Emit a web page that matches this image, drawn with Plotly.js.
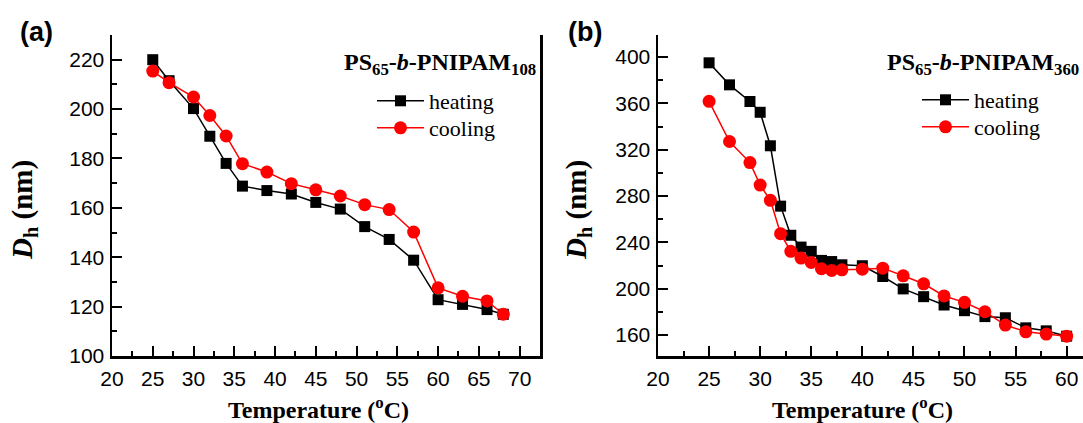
<!DOCTYPE html>
<html>
<head>
<meta charset="utf-8">
<script src="https://cdn.plot.ly/plotly-3.0.1.min.js"></script>
<style>html,body{margin:0;padding:0;background:#fff;}#chart{width:1083px;height:423px;}</style>
</head>
<body>
<div id="chart"></div>
<script>
// ---- data ----
const tempA = [25, 27, 30, 32, 34, 36, 39, 42, 45, 48, 51, 54, 57, 60, 63, 66, 68];
const heatA = [220, 211.5, 200.2, 189, 178, 168.8, 167, 165.6, 162.2, 159.5, 152.4, 147.2, 138.8, 122.8, 120.9, 118.8, 116.9];
const coolA = [215.4, 210.7, 204.9, 197.4, 189.1, 177.9, 174.5, 169.8, 167.3, 164.8, 161.3, 159.3, 150.2, 127.6, 124.2, 122.3, 116.9];

const tempB = [25, 27, 29, 30, 31, 32, 33, 34, 35, 36, 37, 38, 40, 42, 44, 46, 48, 50, 52, 54, 56, 58, 60];
const heatB = [395, 376, 361.6, 352.3, 323.4, 271.3, 246.2, 236, 232.3, 224.5, 223.5, 220.7, 219.9, 210.6, 199.9, 193.2, 186, 181.1, 176, 175, 166.3, 163.7, 159.1];
const coolB = [361.8, 327.1, 308.9, 289.5, 276.3, 247.6, 232.3, 226.5, 222.7, 217.3, 215.8, 216.4, 216.9, 217.8, 211.2, 204.3, 193.8, 188.3, 180.2, 168.7, 162.9, 160.9, 159.1];

const seriesNames = ['heating', 'cooling'];
const labelA = 'PS<sub>65</sub>-<i>b</i>-PNIPAM<sub>108</sub>';
const labelB = 'PS<sub>65</sub>-<i>b</i>-PNIPAM<sub>360</sub>';
const xTitle = 'Temperature (<sup>o</sup>C)';
const yTitle = '<i>D</i><sub>h</sub> (nm)';

// ---- styles ----
const W = 1083, H = 423;
const sans = 'Liberation Sans, Arial, sans-serif';
const serif = 'Liberation Serif, Times New Roman, serif';
const yTop = 1 - 35 / H, yBot = 1 - 356 / H;
const xA = [112 / W, 540 / W];
const xB = [658 / W, 1];

function heatTrace(x, y, xa, ya, leg) {
  return {x: x, y: y, xaxis: xa, yaxis: ya, legend: leg, name: seriesNames[0], type: 'scatter', mode: 'lines+markers',
    line: {color: '#000000', width: 1.5}, marker: {symbol: 'square', size: 11, color: '#000000'}};
}
function coolTrace(x, y, xa, ya, leg) {
  return {x: x, y: y, xaxis: xa, yaxis: ya, legend: leg, name: seriesNames[1], type: 'scatter', mode: 'lines+markers',
    line: {color: '#ff0000', width: 1.5}, marker: {symbol: 'circle', size: 13, color: '#ff0000'}};
}

const data = [
  heatTrace(tempA, heatA, 'x', 'y', 'legend'),
  coolTrace(tempA, coolA, 'x', 'y', 'legend2'),
  heatTrace(tempB, heatB, 'x2', 'y2', 'legend3'),
  coolTrace(tempB, coolB, 'x2', 'y2', 'legend4')
];

const tickFont = {family: sans, size: 21, color: '#000'};
function xaxis(dom, rng, anchor) {
  return {domain: dom, range: rng, anchor: anchor, dtick: 5, tick0: 0, ticks: 'inside', ticklen: 10, tickwidth: 2,
    tickcolor: '#000', showline: true, linewidth: 2.5, linecolor: '#000', mirror: false, showgrid: false, zeroline: false,
    tickfont: tickFont, ticklabelstandoff: 2,
    minor: {dtick: 2.5, ticks: 'inside', ticklen: 5, tickwidth: 2, tickcolor: '#000', showgrid: false}};
}
function topaxis(dom, rng, over, anchor) {
  return {domain: dom, range: rng, overlaying: over, anchor: anchor, side: 'top', dtick: 2.5, tick0: 0, ticks: 'inside',
    ticklen: 4, tickwidth: 2, tickcolor: '#000', showline: true, linewidth: 2.5, linecolor: '#000', showticklabels: false,
    showgrid: false, zeroline: false};
}
function yaxis(rng, dt, anchor, mirror) {
  return {domain: [yBot, yTop], range: rng, anchor: anchor, dtick: dt, tick0: 0, ticks: 'inside', ticklen: 10, tickwidth: 2,
    tickcolor: '#000', showline: true, linewidth: 2.5, linecolor: '#000', mirror: mirror, showgrid: false, zeroline: false,
    tickfont: tickFont, ticklabelstandoff: 1,
    minor: {dtick: dt / 2, ticks: 'inside', ticklen: 5, tickwidth: 2, tickcolor: '#000', showgrid: false}};
}

function leg(xpx, ypx) {
  return {font: {family: serif, size: 22, color: '#000'}, bgcolor: 'rgba(0,0,0,0)', borderwidth: 0,
    xanchor: 'left', yanchor: 'top', tracegroupgap: 0, itemwidth: 47, x: xpx / W, y: 1 - ypx / H};
}

const axTitleFont = {family: serif, size: 24, color: '#000'};
const yTitleFont = {family: serif, size: 29, color: '#000'};
function ann(text, xpx, ypx, font, extra) {
  return Object.assign({text: text, xref: 'paper', yref: 'paper', x: xpx / W, y: 1 - ypx / H, xanchor: 'center',
    yanchor: 'middle', showarrow: false, font: font}, extra || {});
}
const layout = {
  width: W, height: H, margin: {l: 0, r: 0, t: 0, b: 0}, paper_bgcolor: '#fff', plot_bgcolor: '#fff',
  showlegend: true,
  xaxis: xaxis(xA, [20, 72.5], 'y'),
  yaxis: yaxis([100, 230], 20, 'x', true),
  xaxis2: xaxis(xB, [20, 61.6], 'y2'),
  yaxis2: yaxis([142, 419], 40, 'x2', false),
  xaxis3: topaxis(xA, [20, 72.5], 'x', 'y'),
  xaxis4: topaxis(xB, [20, 61.6], 'x2', 'y2'),
  legend: leg(372, 80),
  legend2: leg(372, 107),
  legend3: leg(917, 79),
  legend4: leg(917, 106),
  annotations: [
    ann('<b>(a)</b>', 36, 32, {family: sans, size: 27, color: '#000'}),
    ann('<b>(b)</b>', 585, 32, {family: sans, size: 27, color: '#000'}),
    ann('<b>' + labelA + '</b>', 538, 64, {family: serif, size: 24, color: '#000'}, {xanchor: 'right'}),
    ann('<b>' + labelB + '</b>', 1081, 64, {family: serif, size: 24, color: '#000'}, {xanchor: 'right'}),
    ann('<b>' + xTitle + '</b>', 318, 408, axTitleFont),
    ann('<b>' + xTitle + '</b>', 862, 408, axTitleFont),
    ann('<b>' + yTitle + '</b>', 24, 210, yTitleFont, {textangle: -90}),
    ann('<b>' + yTitle + '</b>', 578, 210, yTitleFont, {textangle: -90})
  ]
};

Plotly.newPlot('chart', data, layout, {displayModeBar: false, staticPlot: true});
</script>
</body>
</html>
